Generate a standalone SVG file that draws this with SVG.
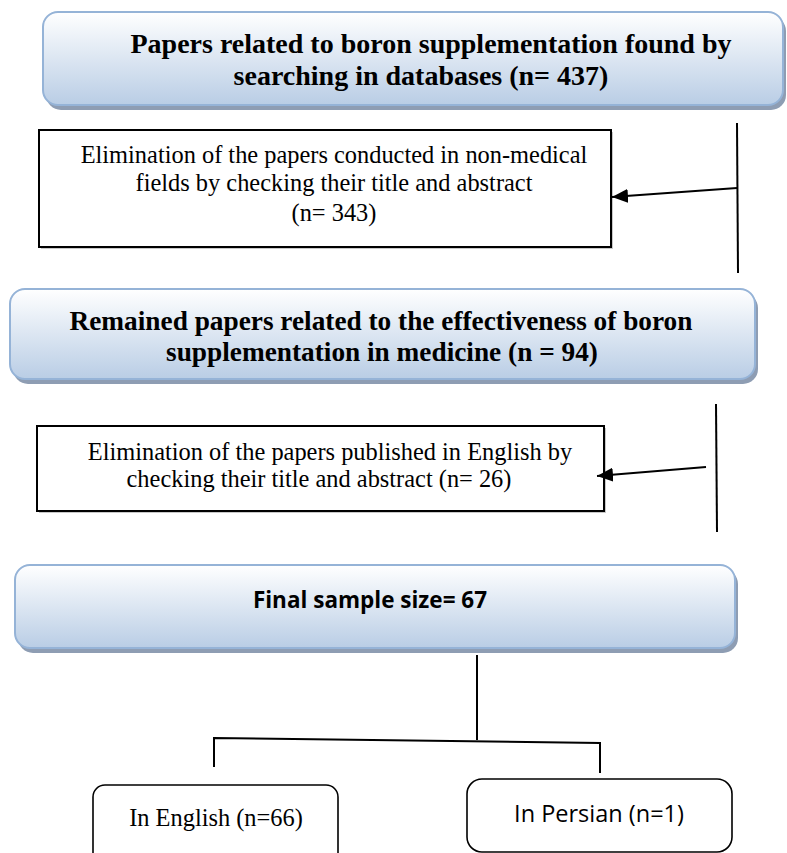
<svg xmlns="http://www.w3.org/2000/svg" width="787" height="853" viewBox="0 0 787 853">
<defs>
<linearGradient id="blueGrad" x1="0" y1="0" x2="0" y2="1">
<stop offset="0" stop-color="#ffffff"/>
<stop offset="1" stop-color="#b9cde5"/>
</linearGradient>
<marker id="arrow" viewBox="0 0 10 10" refX="10" refY="5" markerWidth="16" markerHeight="14" markerUnits="userSpaceOnUse" orient="auto" preserveAspectRatio="none">
<path d="M0,0 L10,5 L0,10 z" fill="#000"/>
</marker>
</defs>
<style>
.shadow{fill:#8e9db3;}
.rbox{fill:url(#blueGrad);stroke:#95b3d7;stroke-width:2;}
.sbox{fill:#ffffff;stroke:#000;stroke-width:2;}
.wbox{fill:#ffffff;stroke:#000;stroke-width:1.6;}
.tb{font-family:"Liberation Serif","Times New Roman",serif;font-weight:bold;font-size:28px;fill:#000;text-anchor:middle;}
.tr{font-family:"Liberation Serif","Times New Roman",serif;font-size:24.4px;fill:#000;text-anchor:middle;}
.cb{font-family:"Open Sans","Noto Sans",sans-serif;font-weight:bold;font-size:22.5px;fill:#000;text-anchor:middle;}
.cr{font-family:"Open Sans","Noto Sans",sans-serif;font-size:23.5px;fill:#000;text-anchor:middle;}
.ln{stroke:#000;stroke-width:2;fill:none;}
</style>

<g id="node-search">
<rect class="shadow" x="46" y="16" width="740" height="94" rx="15"/>
<rect class="rbox" x="43" y="12" width="740" height="93" rx="15"/>
<text class="tb" x="431" y="53">Papers related to boron supplementation found by</text>
<text class="tb" x="421" y="85">searching in databases (n= 437)</text>
</g>

<g id="node-elim1">
<rect x="41" y="132" width="572" height="117" fill="#c8c8c8"/>
<rect class="sbox" x="39" y="130" width="572" height="117"/>
<text class="tr" x="334" y="163">Elimination of the papers conducted in non-medical</text>
<text class="tr" x="334" y="191">fields by checking their title and abstract</text>
<text class="tr" x="334" y="221">(n= 343)</text>
</g>

<g id="node-remained">
<rect class="shadow" x="13" y="293" width="745" height="91" rx="15"/>
<rect class="rbox" x="10" y="289" width="745" height="90" rx="15"/>
<text class="tb" x="381" y="330" style="font-size:27.3px">Remained papers related to the effectiveness of boron</text>
<text class="tb" x="382" y="361" style="font-size:27.3px">supplementation in medicine (n = 94)</text>
</g>

<g id="node-elim2">
<rect x="39" y="428" width="567" height="85" fill="#c8c8c8"/>
<rect class="sbox" x="37" y="426" width="567" height="85"/>
<text class="tr" x="330" y="460">Elimination of the papers published in English by</text>
<text class="tr" x="319" y="487">checking their title and abstract (n= 26)</text>
</g>

<g id="node-final">
<rect class="shadow" x="18" y="569" width="720" height="84" rx="15"/>
<rect class="rbox" x="15" y="565" width="720" height="83" rx="15"/>
<text class="cb" x="370" y="608">Final sample size= 67</text>
</g>

<g id="node-english">
<rect class="wbox" x="93" y="785" width="245" height="90" rx="12"/>
<text class="tr" x="216" y="826">In English (n=66)</text>
</g>

<g id="node-persian">
<rect class="wbox" x="467" y="779" width="265" height="73" rx="15"/>
<text class="cr" x="599" y="822">In Persian (n=1)</text>
</g>

<g id="connectors">
<line class="ln" x1="737" y1="123" x2="738" y2="273"/>
<line class="ln" x1="737" y1="188" x2="612" y2="197" marker-end="url(#arrow)"/>
<line class="ln" x1="716" y1="404" x2="717" y2="532"/>
<line class="ln" x1="706" y1="467" x2="597" y2="476" marker-end="url(#arrow)"/>
<line class="ln" x1="477" y1="655" x2="477" y2="740"/>
<polyline class="ln" points="214,767 214,738 600,743 600,773"/>
</g>
</svg>
